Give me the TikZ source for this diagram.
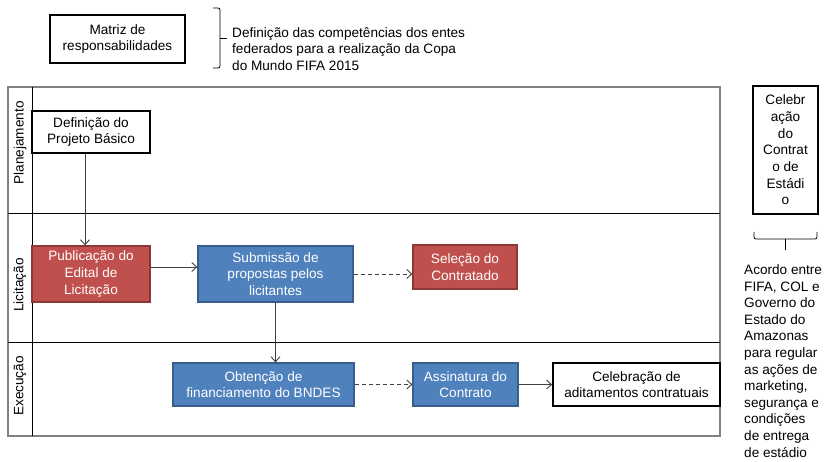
\documentclass[tikz,border=0pt]{standalone}
\usepackage{fontspec,xcolor}
\setmainfont{Liberation Sans}
\usetikzlibrary{arrows.meta}

\definecolor{vermelho}{HTML}{C0504D}
\definecolor{vermelhoesc}{HTML}{8C3836}
\definecolor{azul}{HTML}{4F81BD}
\definecolor{azulesc}{HTML}{385D8A}
\definecolor{cinza}{HTML}{404040}
\definecolor{moldura}{HTML}{808080}

\begin{document}
\begin{tikzpicture}[x=1pt, y=-1pt, font=\fontsize{13.6}{16.7}\selectfont,
		caixa/.style={draw, align=center, inner sep=1pt},
		branca/.style={caixa, line width=1.6pt, fill=white},
		vermelha/.style={caixa, line width=1.2pt, draw=vermelhoesc, fill=vermelho, text=white},
		azulbox/.style={caixa, line width=1.2pt, draw=azulesc, fill=azul, text=white},
		seta/.style={draw=cinza, line width=0.9pt, -{Straight Barb[length=5pt, width=9pt]}},
		tracejada/.style={seta, dash pattern=on 4pt off 3pt},
		raia/.style={rotate=90}]
			\useasboundingbox (0, 0) rectangle (828, 462);

			% cabecalho
			\draw (117.5, 39) 	node[branca, minimum width=135pt, minimum height=48pt] 	(matriz) 	{Matriz de\\responsabilidades};
			\draw (231, 49) 	node[anchor=west, align=left, inner sep=1pt] 			(definicao) {Definição das competências dos entes\\federados para a realização da Copa\\do Mundo FIFA 2015};
			\draw[line width=0.8pt, rounded corners=2pt] (213, 8) -- (220, 8) -- (220, 68) -- (213, 68);
			\draw[line width=0.8pt] (220, 38) -- (227, 38);

			% raias
			\draw[moldura, line width=1.2pt] (8, 87) rectangle (720, 436);
			\draw[line width=0.9pt] (32, 87) -- (32, 436);
			\draw[line width=0.9pt] (8, 213) -- (720, 213);
			\draw[line width=0.9pt] (8, 342) -- (720, 342);
			\draw (20, 143) 	node[raia] 	(planejamento) 	{Planejamento};
			\draw (20, 285) 	node[raia] 	(licitacao) 	{Licitação};
			\draw (20, 386) 	node[raia] 	(execucao) 		{Execução};

			% etapas
			\draw (91, 132) 	node[branca, minimum width=118pt, minimum height=42pt] 		(projeto) 		{Definição do\\Projeto Básico};
			\draw (91, 274) 	node[vermelha, minimum width=118pt, minimum height=56pt] 	(publicacao) 	{Publicação do\\Edital de\\Licitação};
			\draw (275.5, 274) 	node[azulbox, minimum width=155pt, minimum height=56pt] 	(submissao) 	{Submissão de\\propostas pelos\\licitantes};
			\draw (465, 267) 	node[vermelha, minimum width=104pt, minimum height=44pt] 	(selecao) 		{Seleção do\\Contratado};
			\draw (263.5, 384.5) node[azulbox, minimum width=181pt, minimum height=43pt] 	(obtencao) 		{Obtenção de\\financiamento do BNDES};
			\draw (465.5, 384.5) node[azulbox, minimum width=105pt, minimum height=43pt] 	(assinatura) 	{Assinatura do\\Contrato};
			\draw (636.5, 384.5) node[branca, minimum width=167pt, minimum height=43pt] 	(aditamentos) 	{Celebração de\\aditamentos contratuais};

			\draw[seta] ([xshift=-6pt]projeto.south) -- ([xshift=-6pt]publicacao.north);
			\draw[seta] ([yshift=7pt]publicacao.east) -- ([yshift=7pt]submissao.west);
			\draw[tracejada] (submissao.east) -- (submissao.east -| selecao.west);
			\draw[seta] (submissao.south) -- (submissao.south |- obtencao.north);
			\draw[tracejada] (obtencao) -- (assinatura);
			\draw[seta] (assinatura) -- (aditamentos);

			% contrato do estadio
			\draw (785.5, 150) 	node[branca, minimum width=65pt, minimum height=128pt] 	(estadio) 	{Celebr\\ação\\do\\Contrat\\o de\\Estádi\\o};
			\draw[line width=0.8pt, rounded corners=2pt] (754, 232) -- (754, 239) -- (817, 239) -- (817, 232);
			\draw[line width=0.8pt] (785.5, 239) -- (785.5, 250);
			\draw (744, 361) 	node[anchor=west, align=left, inner sep=0pt, font=\fontsize{13.6}{16.6}\selectfont] 	(acordo) 	{Acordo entre\\FIFA, COL e\\Governo do\\Estado do\\Amazonas\\para regular\\as ações de\\marketing,\\segurança e\\condições\\de entrega\\de estádio};
		\end{tikzpicture}
\end{document}
